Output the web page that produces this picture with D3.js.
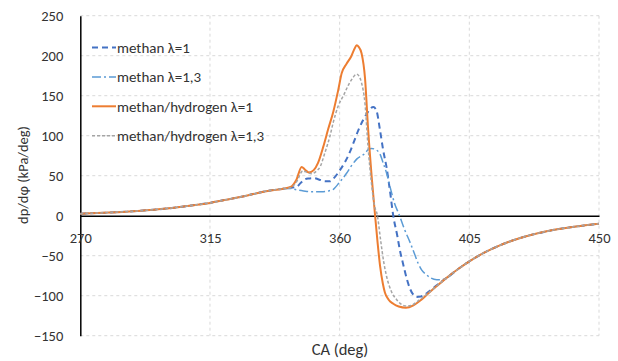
<!DOCTYPE html>
<html>
<head>
<meta charset="utf-8">
<script src="https://cdn.jsdelivr.net/npm/d3@7"></script>
<style>
  html, body { margin: 0; padding: 0; background: #fff; }
  svg { display: block; font-family: Carlito, Calibri, Lato, sans-serif; }
</style>
</head>
<body>
<svg id="chart" width="618" height="361"></svg>
<script>
// Pressure rise rate dp/dφ over crank angle, four fuel / lambda cases.
const xTicks = [270, 315, 360, 405, 450];
const yTicks = [-150, -100, -50, 0, 50, 100, 150, 200, 250];

const seriesNames = ["methan λ=1", "methan λ=1,3", "methan/hydrogen λ=1", "methan/hydrogen λ=1,3"];

// [crank angle (deg), dp/dφ (kPa/deg)]
const methanL1 = [
  [270, 2.5], [280, 4], [290, 6], [300, 9], [310, 13.5], [315, 16], [320, 19.5], [325, 23],
  [330, 27], [335, 31], [340, 33.5], [343, 35], [345, 36], [346.5, 41], [347.5, 44.5],
  [349, 46.5], [351, 47], [353, 45], [355, 43], [356.6, 43], [358, 47], [360.1, 57],
  [362, 68], [363.6, 80], [365, 93], [366.5, 107], [368.2, 120], [369.5, 128], [370.7, 134],
  [371.7, 136], [372.8, 131], [374, 107], [375.1, 82], [376.3, 60], [377.5, 30], [378.6, 0],
  [380, -25], [380.9, -43], [382, -60], [383.3, -79], [384.5, -92], [385.6, -99], [386.7, -101.5],
  [388.2, -101], [390.2, -97], [393.7, -87], [397, -78], [401, -67], [405, -57], [410, -46.5],
  [415, -38], [420, -31], [427, -23.5], [434, -18], [442, -13.5], [450, -10]
];

const methanL13 = [
  [270, 2.5], [280, 4], [290, 6], [300, 9], [310, 13.5], [315, 16], [320, 19.5], [325, 23],
  [330, 27], [335, 31], [340, 33.5], [343, 34], [345, 32.5], [347.5, 31], [349.7, 30],
  [352, 30], [354.3, 30], [356, 31], [357.8, 33], [360, 42], [362.4, 53], [364, 62],
  [366, 71], [368.8, 78], [370, 83], [371.1, 84], [372.8, 82], [374, 77], [375.2, 65],
  [376.3, 53], [377.5, 36], [379, 16], [380.8, 0], [382.5, -17], [384.4, -33], [386, -48],
  [387.3, -60], [388.5, -68], [390.2, -74], [391.7, -78], [393.7, -80], [395.3, -80],
  [397.1, -78], [401, -67], [405, -57], [410, -46.5], [415, -38], [420, -31], [427, -23.5],
  [434, -18], [442, -13.5], [450, -10]
];

const hydrogenL1 = [
  [270, 2.5], [280, 4], [290, 6], [300, 9], [310, 13.5], [315, 16], [320, 19.5], [325, 23],
  [330, 27], [335, 31], [340, 33.5], [343, 36], [345, 45], [346.8, 61], [348, 57.5],
  [349.3, 54], [351, 57], [352.5, 66], [354.3, 86], [356, 108], [357.8, 130], [359.5, 157],
  [360.7, 178], [362.4, 190], [364, 199], [365.2, 209], [365.9, 213], [366.6, 211],
  [367.6, 203], [368.8, 172], [369.9, 107], [371.2, 45], [372.3, 0], [373.2, -35],
  [374, -62], [375, -85], [375.7, -96], [377, -105], [378.6, -110], [380.5, -113.5],
  [383, -115], [385.6, -112], [388, -106], [390.2, -99], [393.7, -88], [397, -78],
  [401, -67], [405, -57], [410, -46.5], [415, -38], [420, -31], [427, -23.5], [434, -18],
  [442, -13.5], [450, -10]
];

const hydrogenL13 = [
  [270, 2.5], [280, 4], [290, 6], [300, 9], [310, 13.5], [315, 16], [320, 19.5], [325, 23],
  [330, 27], [335, 31], [340, 33.5], [343, 35], [345, 42], [347.2, 56], [348.5, 54.5],
  [350.3, 52.5], [352, 56], [353.2, 61], [355, 80], [356.6, 99], [357.8, 117], [359.5, 137],
  [361.3, 150], [363, 163], [364.5, 172], [365.9, 177], [366.8, 174], [367.6, 166],
  [368.8, 140], [369.9, 84], [371, 42], [372, 14], [373.1, 0], [374.2, -30], [375.3, -58],
  [376.3, -76], [378, -95], [379.8, -105], [381.5, -111], [383.3, -113], [385, -112],
  [387, -107], [390, -99], [393.7, -88], [397, -78], [401, -67], [405, -57], [410, -46.5],
  [415, -38], [420, -31], [427, -23.5], [434, -18], [442, -13.5], [450, -10]
];

const seriesData = [methanL1, methanL13, hydrogenL1, hydrogenL13];
const seriesStyle = [
  { color: "#4472C4", width: 2,   dash: "6,4" },
  { color: "#5B9BD5", width: 1.5, dash: "9,3,2,3" },
  { color: "#ED7D31", width: 2,   dash: null },
  { color: "#A5A5A5", width: 1.5, dash: "3,2" }
];

const svg = d3.select("#chart");
const plotLeft = 80.3, plotRight = 599, plotTop = 15.7, plotBottom = 335.7;
const textColor = "#333";
const fontStack = "Carlito, Calibri, Lato, sans-serif";

const x = d3.scaleLinear().domain([270, 450]).range([plotLeft, plotRight]);
const y = d3.scaleLinear().domain([-150, 250]).range([plotBottom, plotTop]);

// dashed gridlines
const grid = svg.append("g");
grid.selectAll("line.h").data(yTicks.filter(v => v !== 0)).join("line")
  .attr("class", "h")
  .attr("x1", plotLeft).attr("x2", plotRight)
  .attr("y1", d => y(d)).attr("y2", d => y(d))
  .attr("stroke", "#d9d9d9").attr("stroke-width", 1).attr("stroke-dasharray", "3,3");
grid.selectAll("line.v").data(xTicks.filter(v => v !== 270)).join("line")
  .attr("class", "v")
  .attr("x1", d => x(d)).attr("x2", d => x(d))
  .attr("y1", plotTop).attr("y2", plotBottom)
  .attr("stroke", "#d9d9d9").attr("stroke-width", 1).attr("stroke-dasharray", "3,3");

// axes
const yAxis = svg.append("g")
  .attr("transform", `translate(${plotLeft},0)`)
  .call(d3.axisLeft(y).tickValues(yTicks).tickSize(0).tickPadding(17).tickFormat(d3.format("d")));
yAxis.select(".domain").attr("stroke", "#000").attr("stroke-width", 1.5);
yAxis.selectAll("text").attr("font-size", 14.5).attr("fill", textColor).attr("font-family", fontStack);

const xAxis = svg.append("g")
  .attr("transform", `translate(0,${y(0)})`)
  .call(d3.axisBottom(x).tickValues(xTicks).tickSize(0).tickPadding(17.5).tickFormat(d3.format("d")));
xAxis.select(".domain").attr("stroke", "#000").attr("stroke-width", 1.5);
xAxis.selectAll("text").attr("font-size", 14.5).attr("fill", textColor).attr("font-family", fontStack);

// series lines
const line = d3.line().x(d => x(d[0])).y(d => y(d[1])).curve(d3.curveMonotoneX);
svg.append("g").selectAll("path").data(seriesData).join("path")
  .attr("d", line)
  .attr("fill", "none")
  .attr("stroke", (d, i) => seriesStyle[i].color)
  .attr("stroke-width", (d, i) => seriesStyle[i].width)
  .attr("stroke-dasharray", (d, i) => seriesStyle[i].dash)
  .attr("stroke-linejoin", "round");

// legend
const legend = svg.append("g");
const rowY = i => 47.5 + i * 29.4;
legend.selectAll("line").data(seriesNames).join("line")
  .attr("x1", 92).attr("x2", 116)
  .attr("y1", (d, i) => rowY(i)).attr("y2", (d, i) => rowY(i))
  .attr("stroke", (d, i) => seriesStyle[i].color)
  .attr("stroke-width", (d, i) => seriesStyle[i].width)
  .attr("stroke-dasharray", (d, i) => seriesStyle[i].dash);
legend.selectAll("text").data(seriesNames).join("text")
  .attr("x", 117).attr("y", (d, i) => rowY(i)).attr("dy", "0.35em")
  .attr("font-size", 15).attr("fill", textColor)
  .text(d => d);

// axis titles
svg.append("text")
  .attr("transform", "translate(28,175) rotate(-90)")
  .attr("text-anchor", "middle").attr("font-size", 14.5).attr("fill", textColor)
  .text("dp/dφ (kPa/deg)");
svg.append("text")
  .attr("x", 340).attr("y", 355)
  .attr("text-anchor", "middle").attr("font-size", 16.5).attr("fill", textColor)
  .text("CA (deg)");
</script>
</body>
</html>
